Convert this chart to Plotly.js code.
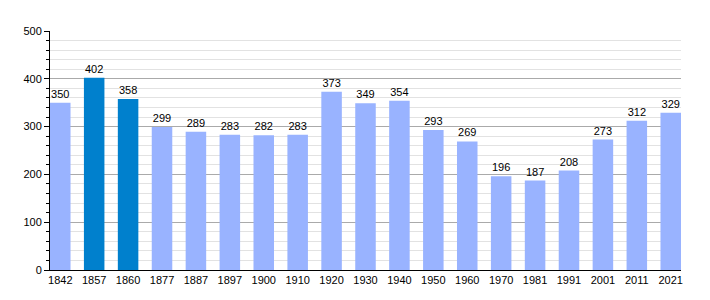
<!DOCTYPE html>
<html><head><meta charset="utf-8">
<script src="https://cdn.plot.ly/plotly-3.0.1.min.js"></script>
<style>html,body{margin:0;padding:0;background:#fff}#c{width:710px;height:300px}</style>
</head><body><div id="c"></div>
<script>
const years = ["1842","1857","1860","1877","1887","1897","1900","1910","1920","1930","1940","1950","1960","1970","1981","1991","2001","2011","2021"];
const population = [350,402,358,299,289,283,282,283,373,349,354,293,269,196,187,208,273,312,329];
const highlighted = ["1857","1860"];
const colors = years.map(y => highlighted.includes(y) ? '#0080cd' : '#99b3ff');
Plotly.newPlot('c', [{
  type: 'bar', x: years, y: population,
  marker: {color: colors},
  width: 0.605,
  text: population.map(String), textposition: 'outside', cliponaxis: false,
  textfont: {family: 'Liberation Sans, Arial, sans-serif', size: 11, color: '#000'},
  hoverinfo: 'none'
}], {
  width: 710, height: 300,
  margin: {l: 50, r: 29, t: 31, b: 30},
  paper_bgcolor: '#fff', plot_bgcolor: '#fff',
  showlegend: false,
  font: {family: 'Liberation Sans, Arial, sans-serif', size: 11, color: '#000'},
  xaxis: {type: 'category', range: [-0.3025, 18.3025], showline: true, linecolor: '#000', linewidth: 1,
    ticks: '', showgrid: false, tickfont: {size: 11}, fixedrange: true},
  yaxis: {range: [0, 500], dtick: 100, showline: true, linecolor: '#000', linewidth: 1,
    ticks: 'outside', ticklen: 5, tickcolor: '#000', gridcolor: '#aaaaaa', zeroline: false,
    minor: {dtick: 20, showgrid: true, gridcolor: '#e2e2e2', ticks: 'outside', ticklen: 3, tickcolor: '#000'},
    tickfont: {size: 11}, fixedrange: true}
}, {displayModeBar: false, staticPlot: true});
</script></body></html>
